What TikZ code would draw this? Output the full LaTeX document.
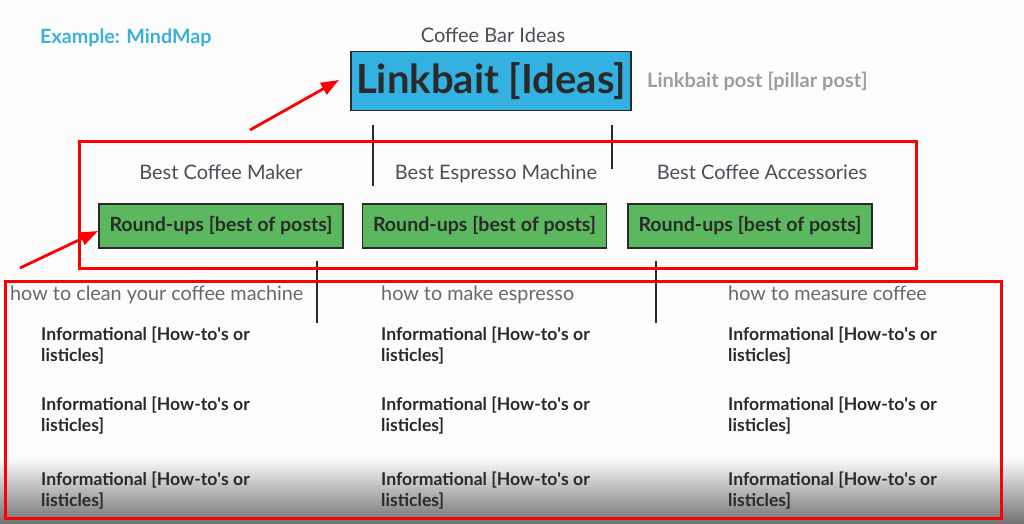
\documentclass[tikz,border=0pt]{standalone}
\usepackage{fontspec}
\setmainfont{Lato}
\usetikzlibrary{arrows.meta}

\definecolor{bgwhite}{HTML}{FCFCFC}
\definecolor{titleblue}{HTML}{3BB0DD}
\definecolor{ideablue}{HTML}{33B2E1}
\definecolor{roundgreen}{HTML}{5CB85F}
\definecolor{topicgray}{HTML}{4A4F57}
\definecolor{notegray}{HTML}{9A9EA3}
\definecolor{infodark}{HTML}{2A2A2A}
\definecolor{markred}{HTML}{FF0000}

\newcommand{\infoline}{Informational [How-to\textquotesingle s or\\listicles]}

\tikzset{
  topic/.style={font=\fontsize{20}{22}\selectfont, text=topicgray, inner sep=0pt, anchor=base},
  roundbox/.style={draw=infodark, line width=1.6pt, fill=roundgreen, minimum width=244pt,
    minimum height=44pt, inner sep=0pt, font=\bfseries\fontsize{19.6}{22}\selectfont, text=infodark},
  howto/.style={font=\fontsize{19.8}{22}\selectfont, text=topicgray!85, anchor=base west, inner sep=0pt},
  infotext/.style={font=\bfseries\fontsize{17.6}{21}\selectfont, text=infodark, align=left,
    anchor=north west, inner sep=0pt},
  stem/.style={draw=infodark, line width=1.6pt},
  redframe/.style={draw=markred, line width=3pt},
  redarrow/.style={draw=markred, line width=2.8pt, -{Triangle[length=18pt,width=13pt]}}
}

\begin{document}
\begin{tikzpicture}[x=1pt, y=-1pt]

    % background and fade at the bottom
    \fill[bgwhite] (0,0) rectangle (1024,523);
    \shade[top color=bgwhite, bottom color=black!55] (0,458) rectangle (1024,523);
    \useasboundingbox (0,0) rectangle (1024,523);

    \node[font=\bfseries\fontsize{19.7}{22}\selectfont, text=titleblue, anchor=west, inner sep=0pt] (title) at (40,38) {Example: MindMap};

    % pillar level
    \node[topic] (bar) at (493,42) {Coffee Bar Ideas};
    \node[draw=infodark, line width=1.6pt, fill=ideablue, minimum width=280pt, minimum height=59pt, inner sep=0pt,
      font=\bfseries\fontsize{40}{42}\selectfont, text=infodark] (ideas) at (491,81) {Linkbait [Ideas]};
    \node[font=\bfseries\fontsize{20}{22}\selectfont, text=notegray, anchor=west, inner sep=0pt] (pillar) at (647,81) {Linkbait post [pillar post]};

    \coordinate (s1a) at (373,125);
    \coordinate (s1b) at (373,186);
    \coordinate (s2a) at (612,125);
    \coordinate (s2b) at (612,169);
    \draw[stem] (s1a) -- (s1b);
    \draw[stem] (s2a) -- (s2b);

    % round-up level
    \node[topic] (maker) at (221,179) {Best Coffee Maker};
    \node[topic] (espresso) at (496,179) {Best Espresso Machine};
    \node[topic] (access) at (762,179) {Best Coffee Accessories};

    \node[roundbox] (r1) at (221,226) {Round-ups [best of posts]};
    \node[roundbox] (r2) at (484.5,226) {Round-ups [best of posts]};
    \node[roundbox] (r3) at (750,226) {Round-ups [best of posts]};

    \coordinate (s3a) at (317,261);
    \coordinate (s3b) at (317,323);
    \coordinate (s4a) at (656,261);
    \coordinate (s4b) at (656,323);
    \draw[stem] (s3a) -- (s3b);
    \draw[stem] (s4a) -- (s4b);

    % informational level
    \node[howto] (h1) at (10,300) {how to clean your coffee machine};
    \node[howto] (h2) at (381,300) {how to make espresso};
    \node[howto] (h3) at (728,300) {how to measure coffee};

    \node[infotext] (i11) at (41,327) {\infoline};
    \node[infotext] (i12) at (41,397) {\infoline};
    \node[infotext] (i13) at (41,472) {\infoline};
    \node[infotext] (i21) at (381,327) {\infoline};
    \node[infotext] (i22) at (381,397) {\infoline};
    \node[infotext] (i23) at (381,472) {\infoline};
    \node[infotext] (i31) at (728,327) {\infoline};
    \node[infotext] (i32) at (728,397) {\infoline};
    \node[infotext] (i33) at (728,472) {\infoline};

    % red marks
    \draw[redframe] (79,141) rectangle (916,268);
    \draw[redframe] (5,281) rectangle (1001,518);

    \coordinate (a1) at (250,130);
    \coordinate (a1tip) at (339,80);
    \coordinate (a2) at (20,268);
    \coordinate (a2tip) at (98,231);
    \draw[redarrow] (a1) -- (a1tip);
    \draw[redarrow] (a2) -- (a2tip);

\end{tikzpicture}
\end{document}
